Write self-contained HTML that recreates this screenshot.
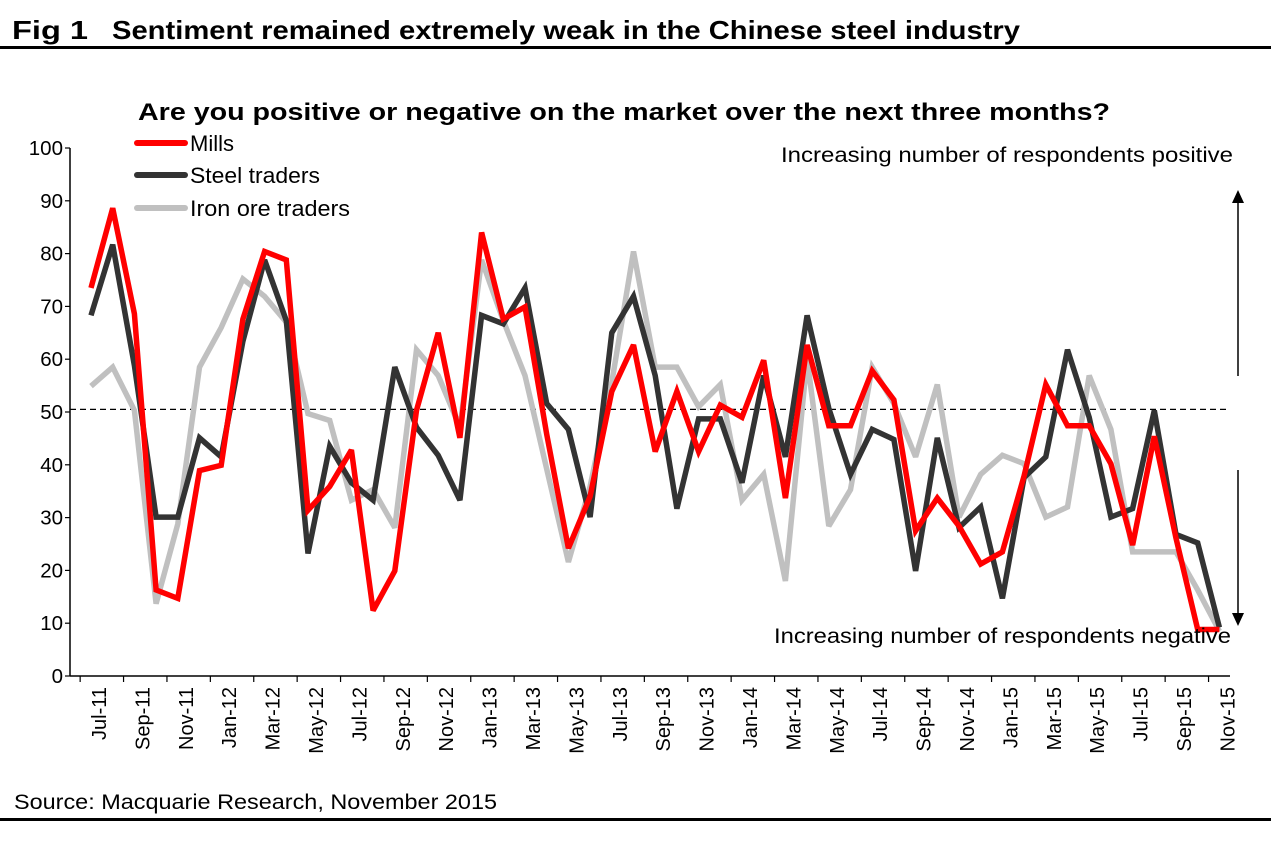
<!DOCTYPE html>
<html><head><meta charset="utf-8"><style>
body{margin:0;background:#fff;width:1271px;height:838px;overflow:hidden;font-family:"Liberation Sans",Arial,sans-serif}
</style></head><body>
<svg id="chart" width="1271" height="838" xmlns="http://www.w3.org/2000/svg" font-family="Liberation Sans, Arial, sans-serif">
<text x="12" y="39" font-size="26" font-weight="bold" textLength="76" lengthAdjust="spacingAndGlyphs">Fig 1</text>
<text x="112" y="39" font-size="26" font-weight="bold" textLength="908" lengthAdjust="spacingAndGlyphs">Sentiment remained extremely weak in the Chinese steel industry</text>
<rect x="0" y="46" width="1271" height="3" fill="#000"/>
<text x="138" y="120" font-size="24" font-weight="bold" textLength="972" lengthAdjust="spacingAndGlyphs">Are you positive or negative on the market over the next three months?</text>
<text x="14" y="809" font-size="21" textLength="483" lengthAdjust="spacingAndGlyphs">Source: Macquarie Research, November 2015</text>
<rect x="0" y="818" width="1271" height="3" fill="#000"/>
<g id="plot"></g>
</svg>
<script>
const categories=["Jul-11","Aug-11","Sep-11","Oct-11","Nov-11","Dec-11","Jan-12","Feb-12","Mar-12","Apr-12","May-12","Jun-12","Jul-12","Aug-12","Sep-12","Oct-12","Nov-12","Dec-12","Jan-13","Feb-13","Mar-13","Apr-13","May-13","Jun-13","Jul-13","Aug-13","Sep-13","Oct-13","Nov-13","Dec-13","Jan-14","Feb-14","Mar-14","Apr-14","May-14","Jun-14","Jul-14","Aug-14","Sep-14","Oct-14","Nov-14","Dec-14","Jan-15","Feb-15","Mar-15","Apr-15","May-15","Jun-15","Jul-15","Aug-15","Sep-15","Oct-15","Nov-15"];
const mills=[73.5,88.6,68.6,16.3,14.7,38.9,39.9,67.6,80.4,78.8,31.4,35.9,42.8,12.4,19.9,50.3,65,45.1,84,67.6,69.9,45.8,24.2,34,53.9,62.7,42.5,53.9,42.5,51.3,49,59.8,33.7,62.7,47.4,47.4,57.8,52.3,27.5,33.7,28.4,21.2,23.5,37.9,55.2,47.4,47.4,40.2,24.8,45.4,26.1,8.8,8.8];
const steelTraders=[68.3,81.7,58.8,30.1,30.1,45.1,41.5,63.4,78.8,67.3,23.2,43.5,36.6,33.3,58.5,47.1,41.8,33.3,68.3,66.7,73.5,51.6,46.7,30.1,65,71.9,56.9,31.7,48.7,48.7,36.6,56.9,41.5,68.3,50.7,38.2,46.7,44.8,19.9,45.1,28.1,32,14.7,37.6,41.5,61.8,49,30.1,31.7,50.3,26.8,25.2,9.2];
const ironOreTraders=[54.9,58.5,50.3,13.7,28.8,58.5,66,75.2,71.9,67,49.7,48.4,33.3,35.3,28.1,61.8,56.9,47.1,78.8,67.3,56.9,39.2,21.6,35.9,55.6,80.4,58.5,58.5,51,55.2,33.3,38.2,18,60.1,28.4,35.3,58.5,51.6,41.5,55.2,30.1,38.2,41.8,40.2,30.1,32,56.9,46.7,23.5,23.5,23.5,16.3,8.5];
const yTicks=[0,10,20,30,40,50,60,70,80,90,100];
const neutralLevel=50.5;

const NS="http://www.w3.org/2000/svg";
const g=document.getElementById('plot');
const X0=91,DX=21.7,Y0=676,PY=5.28,AX=70;
const xs=i=>X0+i*DX;
const ys=v=>Y0-v*PY;
function mk(tag,attrs,parent){const e=document.createElementNS(NS,tag);for(const k in attrs)e.setAttribute(k,attrs[k]);(parent||g).appendChild(e);return e;}

let e=mk('line',{x1:AX,y1:ys(100),x2:AX,y2:Y0,stroke:'#000','stroke-width':1.5});


e=mk('line',{x1:AX,y1:Y0,x2:1230,y2:Y0,stroke:'#000','stroke-width':1.5});


yTicks.forEach(v=>{
  let t=mk('line',{x1:AX-5,y1:ys(v),x2:AX,y2:ys(v),stroke:'#000','stroke-width':1.2});
  
  
  let l=mk('text',{x:AX-7,y:ys(v)+7,'font-size':20.5,'text-anchor':'end'});
  l.textContent=v;
  
  
});
for(let i=0;i<categories.length;i+=2){
  let t=mk('line',{x1:xs(i-0.5),y1:Y0,x2:xs(i-0.5),y2:Y0+6,stroke:'#000','stroke-width':1.2});
  
  
  let l=mk('text',{x:0,y:0,'font-size':20,'text-anchor':'end',transform:`translate(${xs(i)+15},${Y0+11}) rotate(-90)`});
  l.textContent=categories[i];
  
  
}
e=mk('line',{x1:AX,y1:ys(neutralLevel),x2:1230,y2:ys(neutralLevel),stroke:'#000','stroke-width':1.3,'stroke-dasharray':'6,4'});



const series=[[ironOreTraders,'#c0c0c0','series-iron-ore-traders'],[steelTraders,'#333333','series-steel-traders'],[mills,'#ff0000','series-mills']];
series.forEach(([d,c,n])=>{
  const p=mk('polyline',{points:d.map((v,i)=>xs(i)+','+ys(v)).join(' '),fill:'none',stroke:c,'stroke-width':5.5,'stroke-linejoin':'miter','stroke-miterlimit':3});
  
  
});

const leg=[['Mills','#ff0000',143,44],['Steel traders','#333333',175,130],['Iron ore traders','#c0c0c0',208,160]];
leg.forEach(([t,c,y,w])=>{
  let l=mk('line',{x1:137,y1:y,x2:185,y2:y,stroke:c,'stroke-width':6,'stroke-linecap':'round'});
  
  
  let tx=mk('text',{x:190,y:y+8,'font-size':22,textLength:w,lengthAdjust:'spacingAndGlyphs'});
  tx.textContent=t;
  
  
});

let a=mk('text',{x:781,y:162,'font-size':21,textLength:452,lengthAdjust:'spacingAndGlyphs'});
a.textContent='Increasing number of respondents positive';


a=mk('text',{x:774,y:643,'font-size':21,textLength:457,lengthAdjust:'spacingAndGlyphs'});
a.textContent='Increasing number of respondents negative';


a=mk('line',{x1:1238,y1:376,x2:1238,y2:200,stroke:'#000','stroke-width':1.5});


a=mk('polygon',{points:'1238,190 1232,203 1244,203',fill:'#000'});


a=mk('line',{x1:1238,y1:470,x2:1238,y2:615,stroke:'#000','stroke-width':1.5});


a=mk('polygon',{points:'1238,626 1232,613 1244,613',fill:'#000'});


</script>
</body></html>
